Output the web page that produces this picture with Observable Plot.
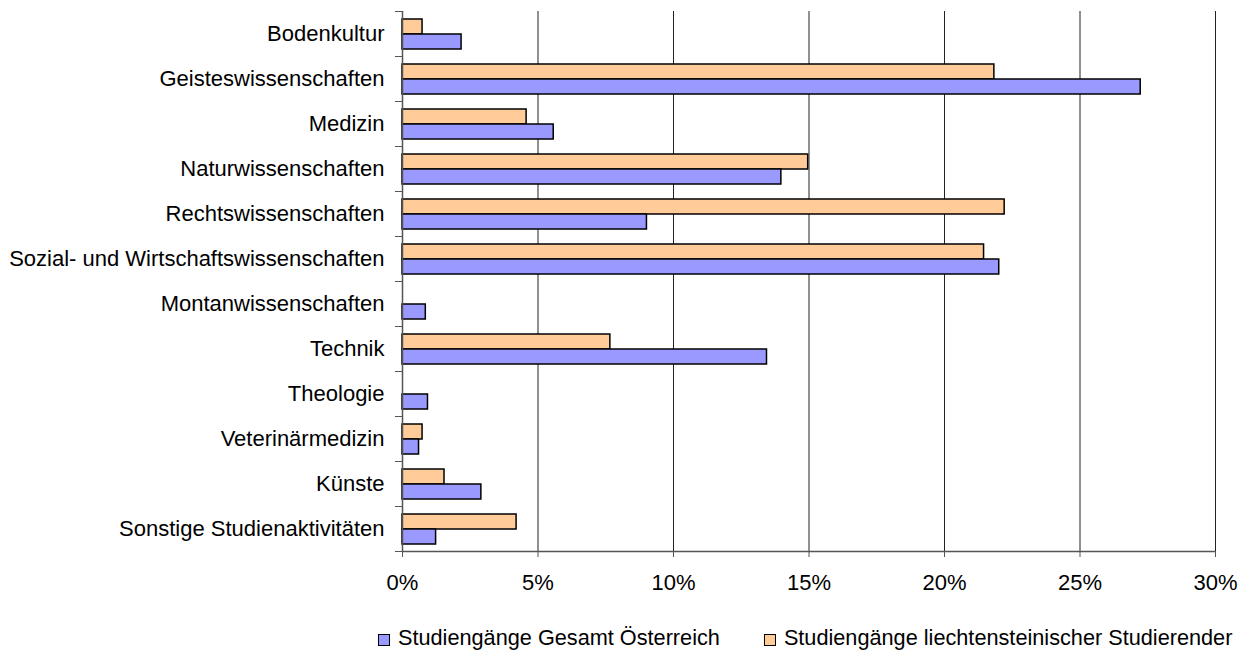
<!DOCTYPE html>
<html>
<head>
<meta charset="utf-8">
<script src="https://cdn.jsdelivr.net/npm/d3@7"></script>
<script src="https://cdn.jsdelivr.net/npm/@observablehq/plot@0.6"></script>
<style>
  body { margin: 0; background: #fff; font-family: "Liberation Sans", Arial, sans-serif; }
  #chart { position: relative; width: 1249px; height: 650px; }
  .legend { position: absolute; left: 378px; top: 626px; display: flex; align-items: center; font-size: 21.7px; line-height: 24px; color: #000; white-space: nowrap; }
  .legend .item { display: flex; align-items: center; }
  .legend .sw { width: 10px; height: 10px; border: 1px solid #000; margin-right: 8px; margin-top: 3px; }
</style>
</head>
<body>
<div id="chart"></div>
<script>
const categories = [
  "Bodenkultur",
  "Geisteswissenschaften",
  "Medizin",
  "Naturwissenschaften",
  "Rechtswissenschaften",
  "Sozial- und Wirtschaftswissenschaften",
  "Montanwissenschaften",
  "Technik",
  "Theologie",
  "Veterinärmedizin",
  "Künste",
  "Sonstige Studienaktivitäten"
];
const gesamtOesterreich = [2.18, 27.24, 5.58, 13.98, 9.02, 22.02, 0.86, 13.45, 0.94, 0.61, 2.91, 1.24];
const liechtensteiner = [0.74, 21.84, 4.58, 14.97, 22.22, 21.46, 0, 7.67, 0, 0.74, 1.55, 4.21];
const seriesNames = ["Studiengänge Gesamt Österreich", "Studiengänge liechtensteinischer Studierender"];
const seriesColors = ["#9999FF", "#FFCC99"];
const xTicks = [0, 5, 10, 15, 20, 25, 30];

const rows = categories.map((c, i) => ({category: c, gesamt: gesamtOesterreich[i], liecht: liechtensteiner[i]}));
const lastCat = [categories[categories.length - 1]];

const plot = Plot.plot({
  width: 1249,
  height: 600,
  marginLeft: 402,
  marginRight: 34,
  marginTop: 11,
  marginBottom: 49,
  style: {fontFamily: "'Liberation Sans', Arial, sans-serif", fontSize: "22px", color: "#000", background: "#fff"},
  x: {domain: [0, 30]},
  y: {domain: categories, padding: 0},
  marks: [
    Plot.gridX(xTicks, {stroke: "#222", strokeOpacity: 1, strokeWidth: 1}),
    Plot.barX(rows, {y: "category", x: "liecht", fill: seriesColors[1], stroke: "#000", strokeWidth: 1.5, insetTop: 8, insetBottom: 22}),
    Plot.barX(rows, {y: "category", x: "gesamt", fill: seriesColors[0], stroke: "#000", strokeWidth: 1.5, insetTop: 23, insetBottom: 7}),
    Plot.ruleX([0], {stroke: "#555", strokeWidth: 1.5}),
    Plot.ruleY(lastCat, {y: d => d, x1: 0, x2: 30, dy: 22.5, stroke: "#555", strokeWidth: 1.5}),
    Plot.axisY({tickSize: 0, tickPadding: 18, label: null}),
    Plot.axisY({tickSize: 7, text: null, dy: -22.5, stroke: "#555", label: null}),
    Plot.axisY(lastCat, {tickSize: 7, text: null, dy: 22.5, stroke: "#555", label: null}),
    Plot.axisX({ticks: xTicks, tickFormat: d => d + "%", tickSize: 6, tickPadding: 17, stroke: "#555", label: null})
  ]
});
const chart = document.getElementById("chart");
chart.appendChild(plot);

const legend = document.createElement("div");
legend.className = "legend";
seriesNames.forEach((name, i) => {
  const item = document.createElement("div");
  item.className = "item";
  if (i > 0) item.style.marginLeft = "44px";
  const sw = document.createElement("div");
  sw.className = "sw";
  sw.style.background = seriesColors[i];
  const t = document.createElement("span");
  t.textContent = name;
  item.appendChild(sw);
  item.appendChild(t);
  legend.appendChild(item);
});
chart.appendChild(legend);
</script>
</body>
</html>
